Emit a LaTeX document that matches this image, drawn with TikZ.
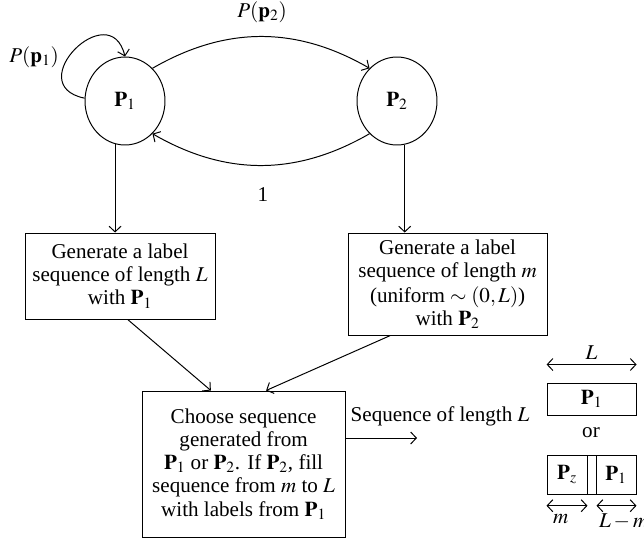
\documentclass[tikz,border=0pt]{standalone}
\usepackage{amsmath}
\usepackage{mathptmx}
\usepackage{fontspec}
\setmainfont{Liberation Serif}
\usepackage{tikz}
\usetikzlibrary{calc}
\usetikzlibrary{arrows.meta}
\usetikzlibrary{positioning}
\usetikzlibrary{shapes.geometric}

\tikzset{
  txt/.style={font=\fontsize{15}{16.5}\selectfont},
  state/.style={txt, draw, ellipse, minimum width=2.00cm, minimum height=2.20cm, inner sep=0pt},
  stepbox/.style={txt, draw, rectangle, align=center, inner sep=0pt},
  seqbox/.style={txt, draw, rectangle, minimum height=0.80cm, inner sep=0pt},
}

\begin{document}
\begin{tikzpicture}[line width=0.7pt, >={Straight Barb[length=4pt, width=8.5pt]}]
            \useasboundingbox (0.00, 0.00) rectangle (16.10, -13.475);
            % states
            \node[state] (pone) at ( 3.125, -2.525) {$\mathbf{P}_1$};
            \node[state] (ptwo) at ( 9.925, -2.525) {$\mathbf{P}_2$};
            \draw[->] (pone.176) .. controls (0.50, -2.125) and (2.75, 0.125) .. (pone.north);
            \draw[->] (pone.50) to[bend left=30] (ptwo.130);
            \draw[->] (ptwo.-130) to[bend left=30] (pone.-50);
            \node[txt] (lpone) at ( 0.85, -1.425) {$P(\mathbf{p}_1)$};
            \node[txt] (lptwo) at ( 6.55, -0.30)  {$P(\mathbf{p}_2)$};
            \node[txt] (lback) at ( 6.575, -4.875) {1};
            % generating boxes
            \node[stepbox, minimum width=4.75cm, minimum height=2.15cm] (genone) at ( 3.00, -6.90)
                 {Generate a label\\ sequence of length $L$\\ with $\mathbf{P}_1$};
            \node[stepbox, minimum width=4.975cm, minimum height=2.55cm] (gentwo) at (11.19, -7.10)
                 {Generate a label\\ sequence of length $m$\\[1pt] (uniform $\sim(0,L)$)\\ with $\mathbf{P}_2$};
            \node[stepbox, minimum width=5.075cm, minimum height=3.65cm] (choose) at ( 6.09, -11.60)
                 {Choose sequence\\ generated from\\ $\mathbf{P}_1$ or $\mathbf{P}_2$. If $\mathbf{P}_2$, fill\\ sequence from $m$ to $L$\\ with labels from $\mathbf{P}_1$};
            \draw[->] (pone.-103) -- (pone.-103 |- genone.north);
            \draw[->] (ptwo.-80) -- (ptwo.-80 |- gentwo.north);
            \draw[->] (genone.-80) -- (choose.114);
            \draw[->] (gentwo.-138) -- (choose.73);
            % output
            \coordinate (seqend) at (10.425, -10.95);
            \draw[->] (choose.east |- seqend) -- (seqend);
            \node[txt] (lseq) at (11.00, -10.40) {Sequence of length $L$};
            % sequence layouts
            \node[seqbox, minimum width=2.225cm] (ptop) at (14.79, -9.975) {$\mathbf{P}_1$};
            \node[txt] (lor) at (14.775, -10.825) {or};
            \node[seqbox, minimum width=1.00cm, minimum height=0.975cm] (pz) at (14.175, -11.863) {$\mathbf{P}_z$};
            \node[seqbox, minimum width=0.225cm, minimum height=0.975cm] (pgap) at (14.79, -11.863) {};
            \node[seqbox, minimum width=1.00cm, minimum height=0.975cm] (pbot) at (15.40, -11.863) {$\mathbf{P}_1$};
            \draw[<->] ([yshift=0.45cm]ptop.north west) -- ([yshift=0.45cm]ptop.north east)
                 node[txt, midway, above] {$L$};
            \draw[<->] ([yshift=-0.28cm]pz.south west) -- ([yshift=-0.28cm]pz.south east)
                 node[txt, pos=0.35, below=0.08cm] {$m$};
            \draw[<->] ([xshift=0.025cm, yshift=-0.28cm]pbot.south west) -- ([yshift=-0.28cm]pbot.south east)
                 node[txt, pos=0.05, below right=0.08cm and 0.00cm, inner xsep=0pt] {$L - m$};
        \end{tikzpicture}
\end{document}
